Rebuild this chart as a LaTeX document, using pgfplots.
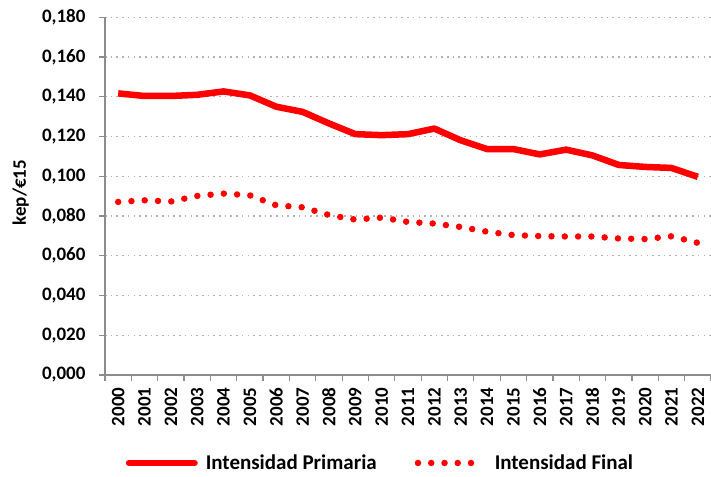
\documentclass[border=0pt]{standalone}
\usepackage{pgfplots}
\pgfplotsset{compat=1.18}
\usepackage{fontspec}
\setmainfont{Carlito}
\pgfplotsset{
  primleg/.style={legend image code/.code={\draw[red, line width=6.5pt, line cap=round] (3.25pt,0pt) -- (68.75pt,0pt);\path[draw=none] (0pt,0pt) -- (78pt,0pt);}},
  finleg/.style={legend image code/.code={\draw[red, line width=6.5pt, line cap=round, dash pattern=on 0pt off 13.25pt] (3.25pt,0pt) -- (57pt,0pt);\path[draw=none] (0pt,0pt) -- (78pt,0pt);}},
}
\begin{document}
\begin{tikzpicture}
\useasboundingbox (0,0) rectangle (711pt,476pt);
\begin{axis}[
  at={(105pt,101pt)}, anchor=south west,
  scale only axis, width=606pt, height=357.7pt,
  xmin=-0.5, xmax=22.5, ymin=0, ymax=0.18,
  axis x line*=bottom, axis y line*=left,
  axis line style={-, draw=gray!90, line width=1.3pt},
  xtick={0,...,22},
  xticklabels={2000,2001,2002,2003,2004,2005,2006,2007,2008,2009,2010,2011,2012,2013,2014,2015,2016,2017,2018,2019,2020,2021,2022},
  major x tick style={draw=none},
  minor xtick={-0.5,0.5,...,22.5},
  minor tick length=6pt,
  minor x tick style={draw=gray!90, line width=1.2pt},
  xtick align=outside,
  ytick={0,0.02,...,0.18},
  ytick align=outside,
  major tick length=6pt,
  major y tick style={draw=gray!90, line width=1.2pt},
  ymajorgrids,
  grid style={draw=black!30, line width=1.3pt, dash pattern=on 1.6pt off 4.1pt},
  yticklabel style={font=\fontsize{19}{20}\selectfont\bfseries, xshift=-10pt, /pgf/number format/.cd, fixed, fixed zerofill, precision=3, use comma, assume math mode=true},
  scaled y ticks=false,
  xticklabel style={font=\fontsize{19}{20}\selectfont\bfseries, rotate=90, anchor=east, xshift=-3pt},
  ylabel={kep/€15},
  ylabel style={font=\fontsize{19}{20}\selectfont\bfseries, at={(axis description cs:-0.139,0.51)}, anchor=center},
  clip=false,
  legend columns=2,
  legend style={draw=none, fill=none, at={(axis description cs:0.4545,-0.246)}, anchor=center,
    font=\fontsize{21}{22}\selectfont\bfseries,
    /tikz/every even column/.append style={column sep=36pt},
    inner sep=0pt},
]
\addplot[red, line width=6.5pt, line join=round, primleg] coordinates {
(0,0.1417) (1,0.1404) (2,0.1404) (3,0.1410) (4,0.1427) (5,0.1407) (6,0.1350) (7,0.1324)
(8,0.1266) (9,0.1212) (10,0.1207) (11,0.1212) (12,0.1240) (13,0.1181) (14,0.1137)
(15,0.1137) (16,0.1110) (17,0.1134) (18,0.1105) (19,0.1057) (20,0.1047) (21,0.1042) (22,0.0997)};
\addlegendentry{Intensidad Primaria}
\addplot[red, line width=6.5pt, line cap=round, dash pattern=on 0pt off 13.3pt, finleg] coordinates {
(0,0.0871) (1,0.0879) (2,0.0873) (3,0.0901) (4,0.0913) (5,0.0904) (6,0.0854) (7,0.0844)
(8,0.0805) (9,0.0782) (10,0.0792) (11,0.0770) (12,0.0762) (13,0.0745) (14,0.0721)
(15,0.0704) (16,0.0699) (17,0.0697) (18,0.0697) (19,0.0687) (20,0.0684) (21,0.0698) (22,0.0665)};
\addlegendentry{Intensidad Final}
\end{axis}
\end{tikzpicture}
\end{document}
